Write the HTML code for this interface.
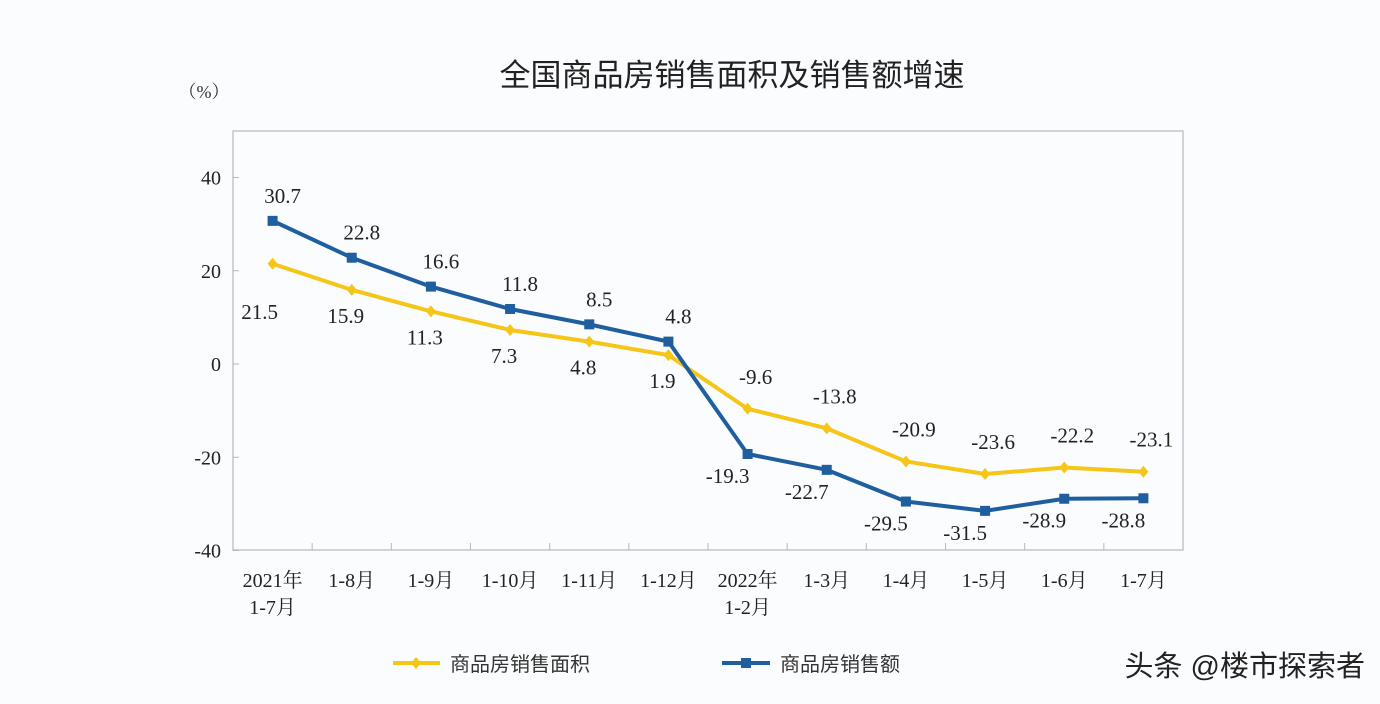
<!DOCTYPE html>
<html><head><meta charset="utf-8">
<style>
html,body{margin:0;padding:0;background:#fbfcfe;}
svg{display:block;}
</style></head>
<body>
<svg id="chart" width="1380" height="704" viewBox="0 0 1380 704" xmlns="http://www.w3.org/2000/svg">
<rect x="0" y="0" width="1380" height="704" fill="#fbfcfe"/>
<text x="732" y="86" text-anchor="middle" font-family="'Liberation Sans','Noto Sans CJK SC',sans-serif" font-size="31" font-weight="normal" fill="#222">全国商品房销售面积及销售额增速</text>
<text x="204" y="98" text-anchor="middle" font-family="'Liberation Serif','Noto Serif CJK SC',serif" font-size="18" fill="#333">（%）</text>
<rect x="233" y="131" width="950" height="419" fill="none" stroke="#b4b8c0" stroke-width="1.2"/>
<g id="axes"></g>
<g id="series"></g>
<g id="legend">
  <line x1="393" y1="663" x2="440" y2="663" stroke="#f5c518" stroke-width="4"/>
  <path d="M416 657 L421 663 L416 669 L411 663 Z" fill="#f5c518"/>
  <text x="450" y="671" font-family="'Liberation Sans','Noto Sans CJK SC',sans-serif" font-size="20" fill="#333">商品房销售面积</text>
  <line x1="722" y1="663" x2="770" y2="663" stroke="#1f5fa0" stroke-width="4"/>
  <rect x="741" y="658" width="10" height="10" fill="#1f5fa0"/>
  <text x="780" y="671" font-family="'Liberation Sans','Noto Sans CJK SC',sans-serif" font-size="20" fill="#333">商品房销售额</text>
</g>
<text x="1365" y="676" text-anchor="end" font-family="'Liberation Sans','Noto Sans CJK SC',sans-serif" font-size="29" fill="#222">头条 @楼市探索者</text>
</svg>
<script>
const categories = ["2021年|1-7月","1-8月","1-9月","1-10月","1-11月","1-12月","2022年|1-2月","1-3月","1-4月","1-5月","1-6月","1-7月"];
const areaValues = [21.5,15.9,11.3,7.3,4.8,1.9,-9.6,-13.8,-20.9,-23.6,-22.2,-23.1];
const salesValues = [30.7,22.8,16.6,11.8,8.5,4.8,-19.3,-22.7,-29.5,-31.5,-28.9,-28.8];
const yTicks = [40,20,0,-20,-40];

const NS = "http://www.w3.org/2000/svg";
const L = 233, R = 1183, T = 131, B = 550;
const step = (R - L) / categories.length;
function xPos(i){ return L + step * (i + 0.5); }
function yPos(v){ return 364 - v * (93.25 / 20); }
function mk(tag, attrs, parent){
  const e = document.createElementNS(NS, tag);
  for (const k in attrs) e.setAttribute(k, attrs[k]);
  parent.appendChild(e);
  return e;
}
const axes = document.getElementById('axes');
const series = document.getElementById('series');
const serif = "'Liberation Serif','Noto Serif CJK SC',serif";

yTicks.forEach(v => {
  const y = yPos(v);
  const t = mk('line', {x1:L, y1:y, x2:L+6, y2:y, stroke:'#b4b8c0', 'stroke-width':1}, axes);
  
  
  const lb = mk('text', {x:L-12, y:y+7, 'text-anchor':'end', 'font-family':serif, 'font-size':20, fill:'#222'}, axes);
  lb.textContent = v;
  
  
});
categories.forEach((c, i) => {
  if (i > 0) {
    const x = L + step * i;
    const t = mk('line', {x1:x, y1:B, x2:x, y2:B-7, stroke:'#b4b8c0', 'stroke-width':1}, axes);
    
    
  }
  const parts = c.split('|');
  parts.forEach((p, j) => {
    const lb = mk('text', {x:xPos(i), y:587 + j*27, 'text-anchor':'middle', 'font-family':serif, 'font-size':20, fill:'#222'}, axes);
    lb.textContent = p;
    
    
  });
});

function drawSeries(vals, color, kind, name){
  const d = vals.map((v,i)=>(i?'L':'M')+xPos(i)+' '+yPos(v)).join(' ');
  const p = mk('path', {d:d, fill:'none', stroke:color, 'stroke-width':4, 'stroke-linejoin':'round'}, series);
  
  
  vals.forEach((v,i)=>{
    const x = xPos(i), y = yPos(v);
    let m;
    if (kind === 'diamond') {
      m = mk('path', {d:`M${x} ${y-6} L${x+5} ${y} L${x} ${y+6} L${x-5} ${y} Z`, fill:color}, series);
    } else {
      m = mk('rect', {x:x-5, y:y-5, width:10, height:10, fill:color}, series);
    }
    
    
  });
}
drawSeries(areaValues, '#f5c518', 'diamond', 'area');
drawSeries(salesValues, '#1f5fa0', 'square', 'sales');

function label(v, i, dy, dx, name){
  const t = mk('text', {x:xPos(i)+dx, y:yPos(v)+dy+7, 'text-anchor':'middle', 'font-family':serif, 'font-size':21, fill:'#222'}, series);
  t.textContent = v.toFixed(1);
  
  
}
areaValues.forEach((v,i)=>{
  if (i < 6) label(v, i, i===0?48:26, i===0?-13:-6, 'area-value-label');
  else label(v, i, -32, 8, 'area-value-label');
});
salesValues.forEach((v,i)=>{
  if (i < 6) label(v, i, -25, 10, 'sales-value-label');
  else label(v, i, 22, -20, 'sales-value-label');
});
</script>
</body></html>
